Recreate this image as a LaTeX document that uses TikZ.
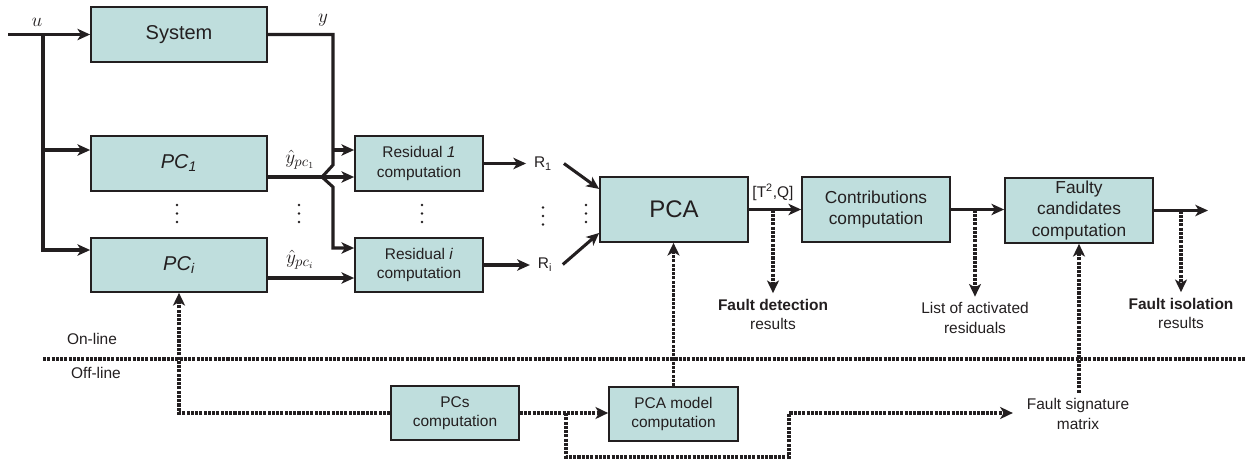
\documentclass[tikz,border=0pt]{standalone}
\usepackage{fontspec}
\setmainfont{Liberation Sans}
\usetikzlibrary{arrows.meta}
\definecolor{boxfill}{RGB}{191,222,221}
\definecolor{ink}{RGB}{35,31,32}
\begin{document}
\begin{tikzpicture}[x=0.75pt,y=-0.75pt,
  font=\fontsize{11.6pt}{14.5pt}\selectfont,
  blk/.style={draw=ink, line width=1.3pt, fill=boxfill, align=center, inner sep=0pt, text=ink},
  wide/.style={minimum width=132pt},
  mid/.style={minimum width=96pt, minimum height=40.5pt},
  big/.style={minimum width=111pt, minimum height=48.75pt},
  flow/.style={draw=ink, line width=2.3pt, line join=miter, -{Stealth[length=9.5pt,width=8.5pt,inset=2.6pt]}},
  dline/.style={draw=ink, line width=2.7pt, dash pattern=on 2.3pt off 0.9pt},
  dflow/.style={dline, -{Stealth[length=9.5pt,width=9pt,inset=2.6pt]}},
  txt/.style={align=center, inner sep=0pt, outer sep=4.5pt, text=ink},
  lab/.style={inner sep=0pt, outer sep=0pt, text=ink},
  mathlab/.style={lab, font=\fontsize{15pt}{17pt}\selectfont},
  vdts/.pic={\fill[ink] (0,-8.5) circle (1.3) (0,0) circle (1.3) (0,8.5) circle (1.3);}]
\useasboundingbox (0,0) rectangle (1245,464);

% ---- on-line blocks
\node[blk, wide, minimum height=41.25pt, font=\fontsize{15pt}{18pt}\selectfont] (sys) at (179,34.5) {System};
\node[blk, wide, minimum height=41.25pt, font=\fontsize{15pt}{18pt}\selectfont\itshape] (pc1) at (179,163.5) {PC\textsubscript{1}};
\node[blk, wide, minimum height=40.5pt, font=\fontsize{15pt}{18pt}\selectfont\itshape] (pci) at (179,265) {PC\textsubscript{i}};
\node[blk, mid, minimum height=41.25pt] (res1) at (419,163.5) {Residual \textit{1}\\computation};
\node[blk, mid] (resi) at (419,265) {Residual \textit{i}\\computation};
\node[blk, big, font=\fontsize{18pt}{22pt}\selectfont] (pca) at (674,209.5) {PCA};
\node[blk, big, font=\fontsize{13pt}{16pt}\selectfont] (contrib) at (876,209.5) {Contributions\\computation};
\node[blk, big, font=\fontsize{13pt}{16pt}\selectfont] (faulty) at (1079,210.5) {Faulty\\candidates\\computation};

% ---- off-line blocks
\node[blk, mid] (pcs) at (455,413) {PCs\\computation};
\node[blk, mid, minimum width=96.75pt] (pcam) at (673.5,414) {PCA model\\computation};

% ---- labels
\node[mathlab] (ulab) at (37,22) {$u$};
\node[mathlab] (ylab) at (323,20) {$y$};
\node[mathlab] (yh1) at (300,160) {$\hat{y}_{pc_1}$};
\node[mathlab] (yhi) at (300,260) {$\hat{y}_{pc_i}$};
\node[lab] (r1) at (543,163.5) {R\textsubscript{1}};
\node[lab] (ri) at (545,264.5) {R\textsubscript{i}};
\node[lab] (tq) at (773,192) {[T\textsuperscript{2},Q]};
\node[txt] (fdet) at (773,314.5) {\textbf{Fault detection}\\results};
\node[txt] (lst) at (975,318) {List of activated\\residuals};
\node[txt] (fiso) at (1181,313.5) {\textbf{Fault isolation}\\results};
\node[txt, outer xsep=10.5pt] (fsm) at (1078,414) {Fault signature\\matrix};
\node[lab] (on) at (92,339) {On-line};
\node[lab] (off) at (96,373) {Off-line};

% ---- continuation dots
\pic at (177,213.5) {vdts};
\pic at (299,213.5) {vdts};
\pic at (422,213.5) {vdts};
\pic at (543,216) {vdts};
\pic at (586,213.5) {vdts};

% ---- input u
\coordinate (uin) at (8,34.5);
\coordinate (usp) at (43,34.5);
\coordinate (u1) at (43,150);
\coordinate (ubot) at (43,250);
\draw[flow] (uin) -- (sys.west);
\draw[flow] (usp) -- (ubot) -- (ubot -| pci.west);
\draw[flow] (u1) -- (u1 -| pc1.west);

% ---- measured output y, with a jog over the PC_1 line
\coordinate (ybr) at (333,150);
\coordinate (h1) at (333,165);
\coordinate (hm) at (322,177);
\coordinate (h2) at (333,187);
\coordinate (ybot) at (333,248);
\draw[flow] (sys.east) -| (h1) -- (hm) -- (h2) -- (ybot) -- (ybot -| resi.west);
\draw[flow] (ybr) -- (ybr -| res1.west);

% ---- model outputs
\draw[flow] (pc1.east |- hm) -- (hm -| res1.west);
\coordinate (pio) at ([yshift=-9.75pt]pci.east);
\draw[flow] (pio) -- (pio -| resi.west);

% ---- residuals into PCA
\draw[flow, shorten >=6pt] (res1.east) -- (res1.east -| r1.west);
\draw[flow, shorten >=6pt] (resi.east) -- (resi.east -| ri.west);
\draw[flow] ([xshift=9pt]r1.east) -- ([yshift=15.4pt]pca.west);
\draw[flow] ([xshift=8pt]ri.east) -- ([yshift=-17.6pt]pca.west);

% ---- detection and isolation chain
\draw[flow] (pca.east) -- (contrib.west);
\draw[flow] (contrib.east) -- (contrib.east -| faulty.west);
\coordinate (fout) at (1208,210.5);
\draw[flow] (faulty.east) -- (fout);
\draw[dflow] (fdet.north |- pca.east) -- (fdet.north);
\draw[dflow] (lst.north |- contrib.east) -- (lst.north);
\draw[dflow] (fiso.north |- faulty.east) -- (fiso.north);

% ---- on-line / off-line separator
\coordinate (sepL) at (43,359);
\coordinate (sepR) at (1245,359);
\draw[dline] (sepL) -- (sepR);

% ---- off-line paths
\draw[dflow] (pcs.west) -| (pci.south);
\draw[dflow] (pcs.east) -- (pcs.east -| pcam.west);
\coordinate (br) at (566,413);
\coordinate (jog) at (789,457);
\draw[dflow] (br) -- (br |- jog) -- (jog) -- (jog |- br) -- (jog |- br -| fsm.west);
\draw[dflow] (fsm.north -| faulty.south) -- (faulty.south);
\draw[dflow] (pcam.north) -- (pcam.north |- pca.south);
\end{tikzpicture}
\end{document}
